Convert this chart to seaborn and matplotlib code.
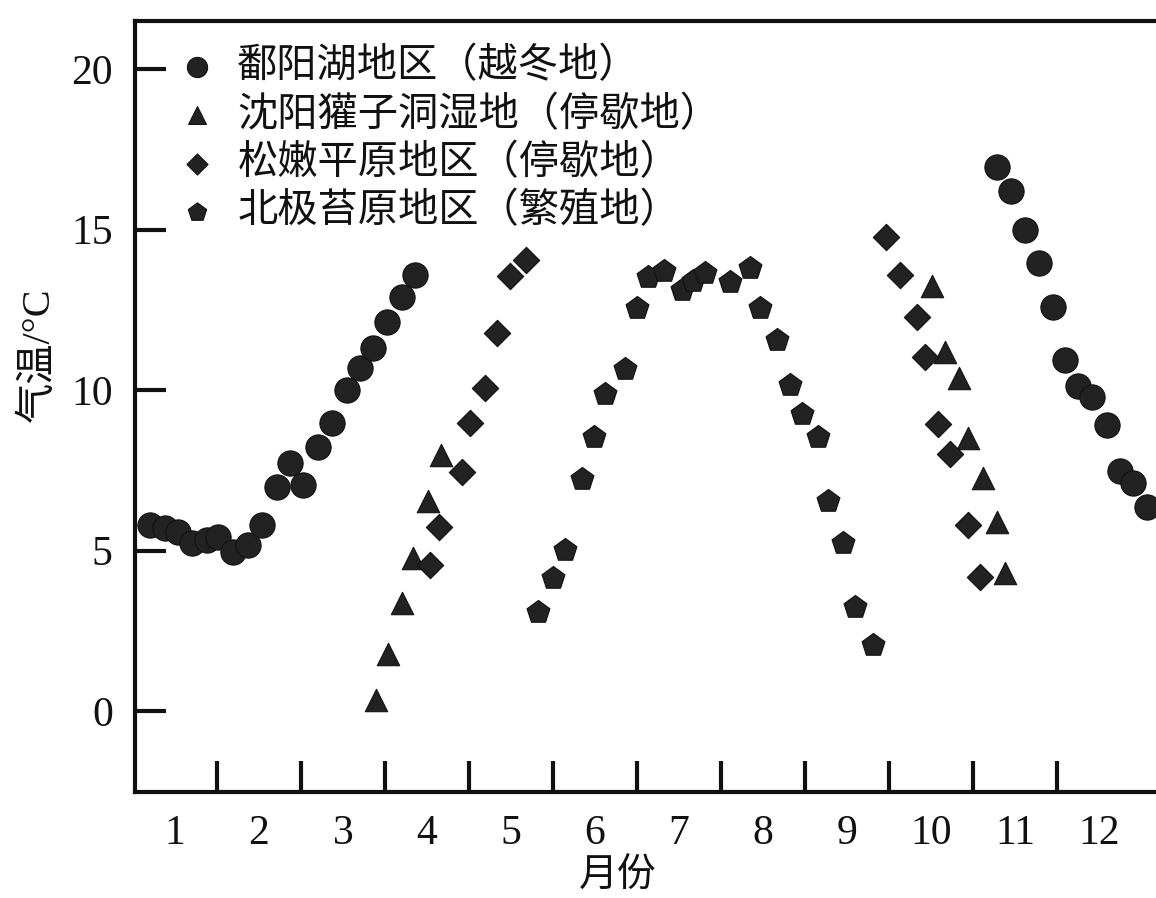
import pandas as pd
import matplotlib
matplotlib.use("Agg")
import matplotlib.pyplot as plt
import seaborn as sns

# data (x = month position, y = air temperature in C)
poyang_month = [0.70, 0.88, 1.04, 1.20, 1.38, 1.51, 1.69, 1.87, 2.04, 2.21, 2.37, 2.52,
                2.70, 2.87, 3.05, 3.20, 3.36, 3.52, 3.70, 3.86,
                10.79, 10.95, 11.12, 11.29, 11.45, 11.60, 11.75, 11.92, 12.10, 12.25, 12.41, 12.57]
poyang_temp = [5.79, 5.70, 5.58, 5.23, 5.33, 5.42, 4.95, 5.17, 5.79, 6.98, 7.73, 7.04,
               8.22, 8.97, 10.0, 10.69, 11.31, 12.12, 12.90, 13.58,
               16.95, 16.20, 14.98, 13.96, 12.59, 10.93, 10.12, 9.78, 8.91, 7.48, 7.10, 6.36]

shenyang_month = [3.39, 3.54, 3.70, 3.83, 4.01, 4.17,
                  10.01, 10.17, 10.33, 10.44, 10.62, 10.79, 10.88]
shenyang_temp = [0.34, 1.78, 3.36, 4.77, 6.54, 7.98,
                 13.24, 11.18, 10.37, 8.50, 7.26, 5.89, 4.30]

songnen_month = [4.04, 4.14, 4.42, 4.51, 4.69, 4.83, 4.99, 5.18,
                 9.46, 9.63, 9.83, 9.93, 10.08, 10.23, 10.44, 10.58]
songnen_temp = [4.55, 5.73, 7.45, 8.97, 10.06, 11.78, 13.55, 14.05,
                14.77, 13.58, 12.27, 11.03, 8.94, 8.01, 5.79, 4.17]

arctic_month = [5.32, 5.50, 5.64, 5.85, 5.99, 6.12, 6.36, 6.50, 6.63, 6.82,
                7.04, 7.17, 7.31, 7.61, 7.85, 7.96, 8.17, 8.32, 8.46, 8.66,
                8.77, 8.95, 9.10, 9.31]
arctic_temp = [3.08, 4.14, 5.02, 7.23, 8.54, 9.88, 10.65, 12.55, 13.52, 13.71,
               13.12, 13.40, 13.66, 13.36, 13.80, 12.55, 11.56, 10.16, 9.25, 8.54,
               6.54, 5.23, 3.24, 2.06]

site_names = ["鄱阳湖地区（越冬地）", "沈阳獾子洞湿地（停歇地）",
              "松嫩平原地区（停歇地）", "北极苔原地区（繁殖地）"]
month_labels = [str(i) for i in range(1, 13)]
y_ticks = [0, 5, 10, 15, 20]

sns.set_style("white")
plt.rcParams['font.family'] = ['Liberation Serif', 'Noto Sans CJK SC']
plt.rcParams['axes.unicode_minus'] = False
plt.rcParams['text.color'] = '#111111'
plt.rcParams['axes.labelcolor'] = '#111111'
plt.rcParams['xtick.color'] = '#111111'
plt.rcParams['ytick.color'] = '#111111'
plt.rcParams['xtick.direction'] = 'in'
plt.rcParams['ytick.direction'] = 'in'
plt.rcParams['xtick.bottom'] = True
plt.rcParams['ytick.left'] = True

fig = plt.figure(figsize=(11.56, 8.98), dpi=100)
ax = fig.add_axes([135 / 1156, 1 - 792 / 898, 1021 / 1156, 771 / 898])

ink = '#222222'
series = [
    (poyang_month, poyang_temp, 'o', 330),
    (shenyang_month, shenyang_temp, '^', 260),
    (songnen_month, songnen_temp, 'D', 180),
    (arctic_month, arctic_temp, 'p', 300),
]
for (xs, ys, mk, size), name in zip(series, site_names):
    df = pd.DataFrame({'month': xs, 'temp': ys})
    sns.scatterplot(data=df, x='month', y='temp', marker=mk, s=size, color=ink,
                    edgecolor='#111111', linewidth=0.8, label=name, ax=ax, zorder=3)

ax.set_xlim(0.524, 12.68)
ax.set_ylim(-2.52, 21.5)

# month boundaries get ticks, month centres get labels
ax.set_xticks([m + 0.5 for m in range(1, 12)])
ax.set_xticklabels([])
ax.set_xticks(range(1, 13), minor=True)
ax.set_xticklabels(month_labels, minor=True)
ax.tick_params(axis='x', which='major', bottom=True, direction='in', length=22, width=3)
ax.tick_params(axis='x', which='minor', bottom=True, length=0, pad=16, labelsize=30)
ax.set_yticks(y_ticks)
ax.yaxis.set_tick_params(which='major', left=True, direction='in', length=22, width=3,
                         pad=16, labelsize=30)

for side in ['left', 'bottom', 'top']:
    ax.spines[side].set_linewidth(3)
    ax.spines[side].set_color('#111111')
ax.spines['right'].set_visible(False)

ax.set_xlabel('月份', fontsize=28)
ax.xaxis.set_label_coords(0.473, -0.086)
ax.set_ylabel('气温/°C', fontsize=29)
ax.yaxis.set_label_coords(-0.076, 0.567)

leg = ax.legend(loc='upper left', bbox_to_anchor=(0.041, 0.965), frameon=False,
                fontsize=29, markerscale=0.8, handlelength=1.0, handletextpad=0.5,
                labelspacing=0.25, borderaxespad=0, borderpad=0)

plt.savefig('out.png', dpi=100)
plt.close()
print("Saved out.png")
